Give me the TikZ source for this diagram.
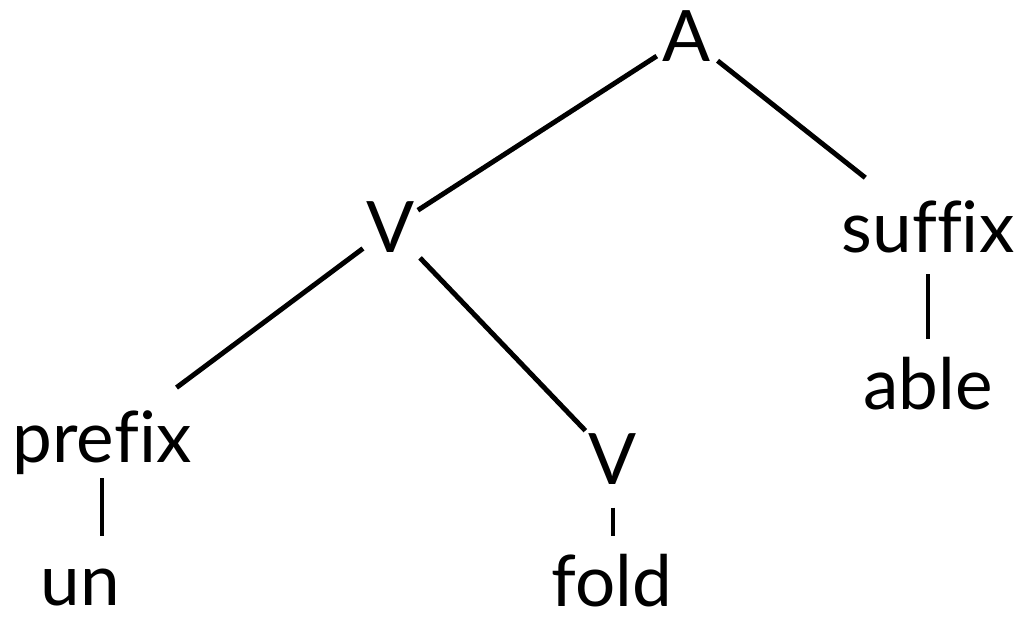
\documentclass[tikz,border=0pt]{standalone}
\usepackage{fontspec}
\setmainfont[Ligatures=NoCommon]{Lato}
\begin{document}
\begin{tikzpicture}
  \tikzstyle{word}=[inner sep=0pt, anchor=base, font=\fontsize{20.2}{24}\selectfont]
  \tikzstyle{branch}=[line width=1.4pt]
  \useasboundingbox (0,0) rectangle (10.16,6.18);

  % Draw the category nodes
  \node[word] (A) at (6.87,5.56) {A};
  \node[word] (V-1) at (3.91,3.65) {V};
  \node[word] (suffix) at (9.28,3.65) {suffix};
  \node[word] (prefix) at (1.02,1.55) {prefix};
  \node[word] (V-2) at (6.13,1.33) {V};

  % Draw the morphemes
  \node[word] (able) at (9.28,2.08) {able};
  \node[word] (un) at (0.80,0.12) {un};
  \node[word] (fold) at (6.12,0.11) {fold};

  % Connect the branches
  \foreach \from/\to/\s/\e in {A/V-1/0.36/0.32, A/suffix/0.39/0.80,
      V-1/prefix/0.35/0.93, V-1/V-2/0.42/0.40}
    \draw[branch, shorten <=\s cm, shorten >=\e cm] (\from.center) -- (\to.center);

  % Connect categories -> morphemes
  \foreach \from/\to/\s/\e in {suffix/able/0.47/0.45, prefix/un/0.35/0.52,
      V-2/fold/0.48/0.45}
    \draw[branch, shorten <=\s cm, shorten >=\e cm] (\from.center) -- (\from.center |- \to.center);
\end{tikzpicture}
\end{document}
